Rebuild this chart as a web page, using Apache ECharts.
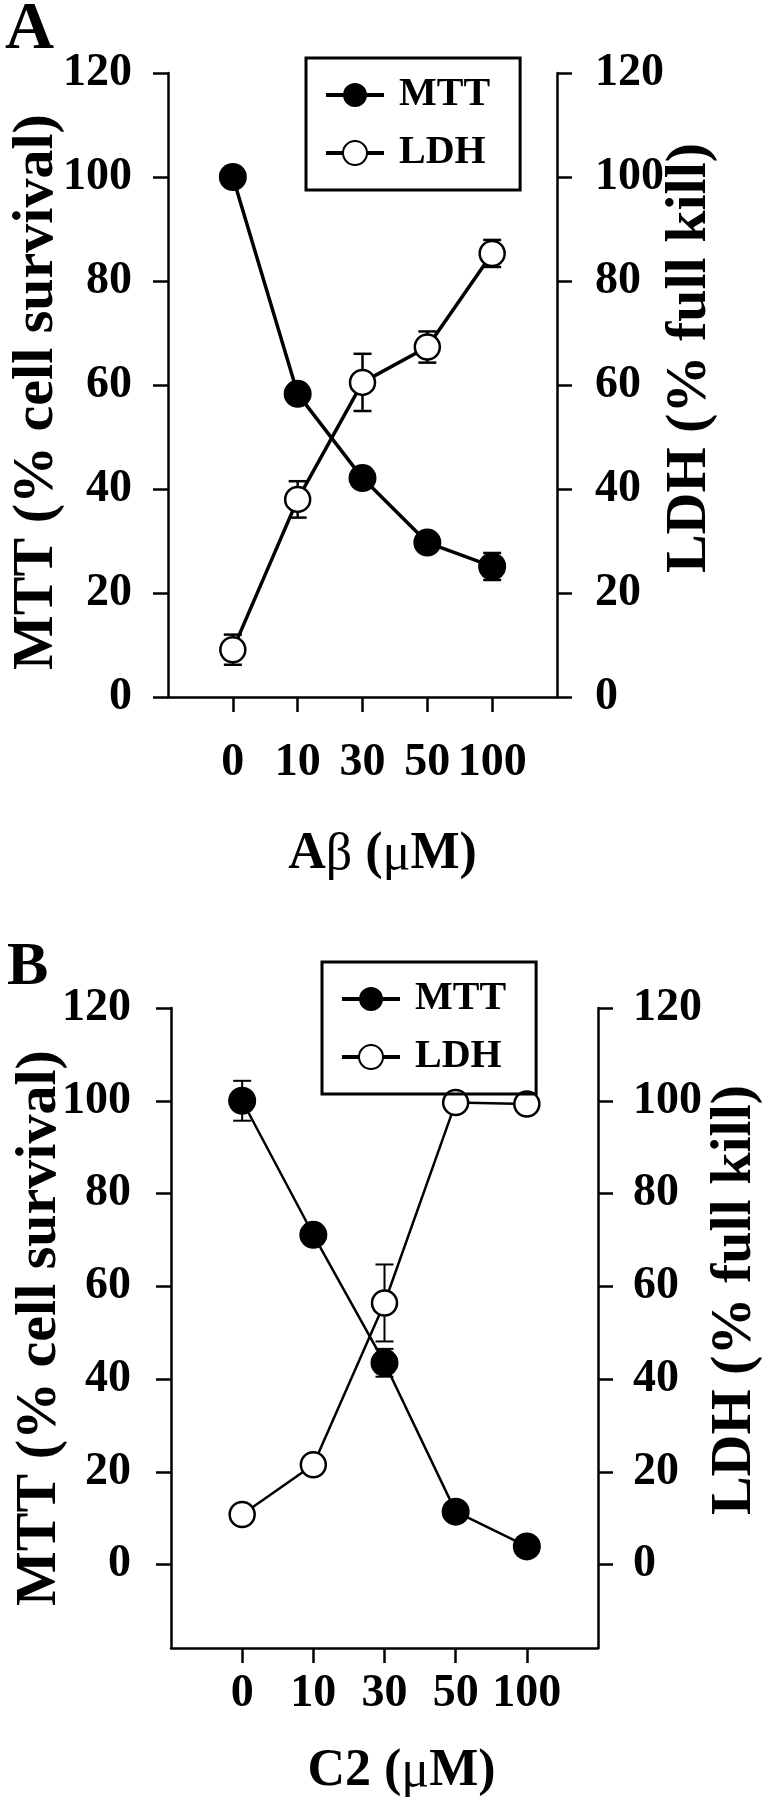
<!DOCTYPE html>
<html>
<head>
<meta charset="utf-8">
<script src="https://cdn.jsdelivr.net/npm/echarts@6/dist/echarts.min.js"></script>
<style>html,body{margin:0;padding:0;background:#fff}#chart{width:772px;height:1800px}</style>
</head>
<body>
<div id="chart"></div>
<script>
// ---- data ----
const categories = ['0', '10', '30', '50', '100'];
const yTicks = [0, 20, 40, 60, 80, 100, 120];

const mttA = [100, 58.3, 42.1, 29.7, 25.1];
const mttAErr = [1.5, 1.5, 1.5, 1.5, 2.6];
const ldhA = [9.1, 38.0, 60.5, 67.3, 85.3];
const ldhAErr = [2.9, 3.5, 5.5, 3.0, 2.6];

const mttB = [100, 71.1, 43.5, 11.4, 3.9];
const mttBErr = [4.3, 1.5, 3.0, 1.5, 1.0];
const ldhB = [10.8, 21.5, 56.4, 99.6, 99.3];
const ldhBErr = [1.0, 1.0, 8.3, 1.0, 1.0];

const FONT = "'Liberation Serif', 'Times New Roman', serif";
const catIdx = categories.map((c, i) => i);

function pts(vals) { return vals.map((v, i) => [i, v]); }

function errSeries(vals, errs, xi, yi, cap, lw) {
  return {
    type: 'custom', xAxisIndex: xi, yAxisIndex: yi, z: 1, silent: true,
    data: vals.map((v, i) => [i, v - errs[i], v + errs[i]]),
    encode: { x: 0, y: [1, 2] },
    renderItem(params, api) {
      const x = api.value(0);
      const lo = api.coord([x, api.value(1)]);
      const hi = api.coord([x, api.value(2)]);
      const style = { stroke: '#000', lineWidth: lw };
      return { type: 'group', children: [
        { type: 'line', shape: { x1: lo[0], y1: lo[1], x2: hi[0], y2: hi[1] }, style },
        { type: 'line', shape: { x1: lo[0] - cap / 2, y1: lo[1], x2: lo[0] + cap / 2, y2: lo[1] }, style },
        { type: 'line', shape: { x1: hi[0] - cap / 2, y1: hi[1], x2: hi[0] + cap / 2, y2: hi[1] }, style }
      ]};
    }
  };
}

const labelStyle = { color: '#000', fontFamily: FONT, fontWeight: 'bold', fontSize: 46 };
const lineAx = { show: true, onZero: false, lineStyle: { color: '#000', width: 2.5 } };
const tickAx = { show: true, length: 15, lineStyle: { color: '#000', width: 2.5 } };

function xAxis(gi, margin, name, gap, shift) {
  return {
    gridIndex: gi, type: 'value', min: -1, max: 5, interval: 1,
    axisLine: lineAx,
    axisTick: Object.assign({}, tickAx, { customValues: catIdx }),
    axisLabel: Object.assign({}, labelStyle, { margin, customValues: catIdx, formatter: v => categories[v] ?? '' }),
    splitLine: { show: false },
    name, nameLocation: 'middle', nameGap: gap, nameMoveOverlap: false,
    nameTextStyle: { color: '#000', fontFamily: FONT, fontWeight: 'bold', fontSize: 52, padding: [0, 0, 0, shift],
      rich: {
        b: { fontFamily: FONT, fontWeight: 'bold', fontSize: 52, color: '#000' },
        g: { fontFamily: FONT, fontWeight: 'normal', fontSize: 52, color: '#000' }
      } }
  };
}

function yAxis(gi, pos, min, margin, name, gap, pad) {
  return {
    gridIndex: gi, type: 'value', position: pos, min, max: 120,
    axisLine: lineAx,
    axisTick: Object.assign({}, tickAx, { customValues: yTicks }),
    axisLabel: Object.assign({}, labelStyle, { margin, customValues: yTicks }),
    splitLine: { show: false },
    name, nameLocation: 'middle', nameRotate: 90, nameGap: gap, nameMoveOverlap: false,
    nameTextStyle: { color: '#000', fontFamily: FONT, fontWeight: 'bold', fontSize: 58, padding: pad }
  };
}

function lineSeries(name, vals, xi, yi, filled, lw) {
  return {
    type: 'line', name, xAxisIndex: xi, yAxisIndex: yi, data: pts(vals), z: 3,
    symbol: 'circle', symbolSize: filled ? 28 : 25,
    itemStyle: filled ? { color: '#000' } : { color: '#fff', borderColor: '#000', borderWidth: 2.5 },
    lineStyle: { color: '#000', width: lw }
  };
}

function legend(left, top) {
  return {
    orient: 'vertical', left, top, data: ['MTT', 'LDH'], selectedMode: false,
    itemWidth: 58, itemHeight: 30, itemGap: 18,
    padding: [17, 30, 17, 18],
    borderColor: '#000', borderWidth: 3,
    lineStyle: { width: 4, color: '#000' },
    textStyle: { color: '#000', fontFamily: FONT, fontWeight: 'bold', fontSize: 40, padding: [0, 0, 0, 10] }
  };
}

const chart = echarts.init(document.getElementById('chart'), null, { renderer: 'canvas' });
chart.setOption({
  animation: false,
  backgroundColor: '#fff',
  grid: [
    { left: 160, top: 73, width: 397, height: 624 },
    { left: 171, top: 1008, width: 428, height: 640 }
  ],
  xAxis: [
    xAxis(0, 43, '{b|A}{g|β}{b| (}{g|μ}{b|M)}', 132, 40),
    xAxis(1, 23, '{b|C2 (}{g|μ}{b|M)}', 98, 34)
  ],
  yAxis: [
    yAxis(0, 'left', 0, 36, 'MTT (% cell survival)', 102, [0, 14, 0, 0]),
    yAxis(0, 'right', 0, 38, 'LDH (% full kill)', 104, [0, 0, 0, 54]),
    yAxis(1, 'left', -18, 40, 'MTT (% cell survival)', 102, [0, 0, 0, 0]),
    yAxis(1, 'right', -18, 35, 'LDH (% full kill)', 108, [0, 0, 0, 56])
  ],
  legend: [legend(306, 58), legend(322, 962)],
  graphic: [
    { type: 'text', left: 5, top: -4, style: { text: 'A', font: "bold 68px 'Liberation Serif', serif", fill: '#000' } },
    { type: 'text', left: 7, top: 937, style: { text: 'B', font: "bold 62px 'Liberation Serif', serif", fill: '#000' } }
  ],
  series: [
    errSeries(mttA, mttAErr, 0, 0, 18, 2.5),
    errSeries(ldhA, ldhAErr, 0, 1, 18, 2.5),
    lineSeries('MTT', mttA, 0, 0, true, 3.5),
    lineSeries('LDH', ldhA, 0, 1, false, 3.5),
    errSeries(mttB, mttBErr, 1, 2, 18, 2),
    errSeries(ldhB, ldhBErr, 1, 3, 18, 2),
    lineSeries('MTT', mttB, 1, 2, true, 2.5),
    lineSeries('LDH', ldhB, 1, 3, false, 2.5)
  ]
});
</script>
</body>
</html>
